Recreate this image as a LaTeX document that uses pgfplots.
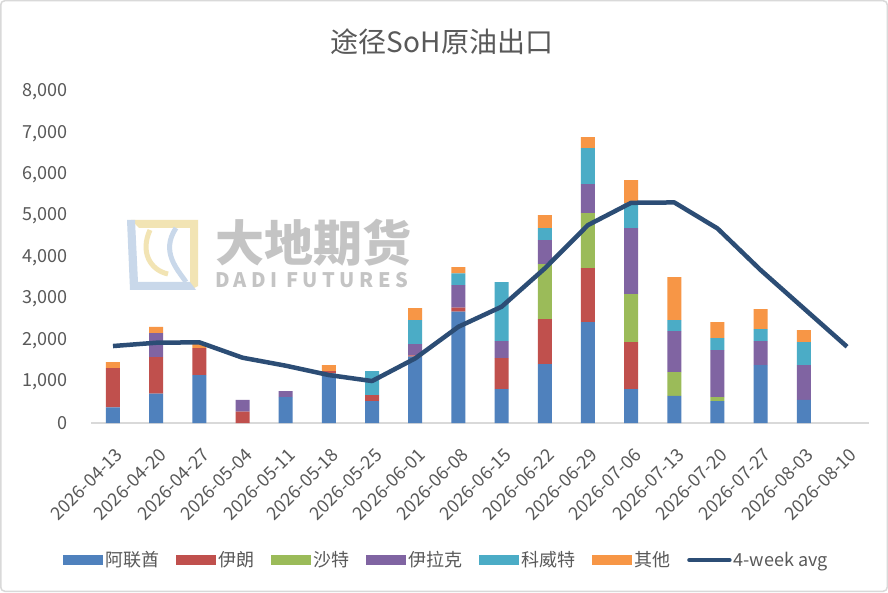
\documentclass[border=0pt]{standalone}
\usepackage{pgfplots}
\pgfplotsset{compat=1.18}
\usepackage{pgfplotstable}
\usepackage{fontspec}
\setmainfont{Noto Sans CJK SC}
\definecolor{cBlue}{HTML}{4F81BD}
\definecolor{cRed}{HTML}{C0504D}
\definecolor{cGreen}{HTML}{9BBB59}
\definecolor{cPurple}{HTML}{8064A2}
\definecolor{cTeal}{HTML}{4BACC6}
\definecolor{cOrange}{HTML}{F79646}
\definecolor{cLine}{HTML}{2C4D75}
\definecolor{cTxt}{HTML}{595959}
\definecolor{cAx}{HTML}{D9D9D9}
\definecolor{wmGray}{HTML}{C4C4C4}
\definecolor{wmBlue}{HTML}{C9D8EA}
\definecolor{wmYellow}{HTML}{F2E4B4}

\pgfplotstableread{
x a b c d e f
0 379 950 0 0 0 144
1 708 886 0 580 0 152
2 1159 653 0 0 0 100
3 0 273 0 283 0 0
4 628 0 0 145 0 0
5 1200 56 0 0 0 145
6 531 145 0 0 580 0
7 1602 34 0 272 580 290
8 2689 97 0 547 282 153
9 821 749 0 411 1425 0
10 1425 1087 1329 579 290 314
11 2440 1304 1328 701 870 265
12 821 1136 1159 1594 597 563
13 653 0 579 990 266 1039
14 531 0 97 1135 290 387
15 1401 0 0 580 290 483
16 556 0 0 845 556 289
17 0 0 0 0 0 0
}\bars

\pgfplotstableread{
x v
0 1860
1 1940
2 1950
3 1578
4 1385
5 1159
6 1014
7 1562
8 2326
9 2810
10 3736
11 4783
12 5322
13 5331
14 4702
15 3696
16 2770
17 1844
}\avg

\begin{document}
\begin{tikzpicture}
\useasboundingbox (0pt,0pt) rectangle (888pt,592pt);
\draw[line width=1.5pt, draw=cAx, fill=white, rounded corners=4pt] (0.75pt,0.75pt) rectangle (887.25pt,591.25pt);
% title
\node[text=cTxt, font=\fontsize{28}{30}\selectfont] at (442pt,550pt) {途径SoH原油出口};
% watermark
\fill[wmYellow] (131pt,372pt) -- (198pt,372pt) -- (198pt,306pt) -- (190pt,302pt) -- (190pt,364pt) -- (139pt,364pt) -- cycle;
\fill[wmBlue] (127pt,372pt) -- (135pt,372pt) -- (138pt,310pt) -- (190pt,310pt) -- (196pt,302pt) -- (130pt,302pt) -- cycle;
\draw[wmBlue, line width=5pt] (176pt,364pt) .. controls (160pt,340pt) and (178pt,322pt) .. (186pt,310pt);
\draw[wmYellow, line width=5pt] (150pt,362pt) .. controls (140pt,340pt) and (150pt,322pt) .. (168pt,318pt);
\node[text=wmGray, font=\fontsize{49}{52}\selectfont\bfseries, anchor=west, inner sep=0pt] at (215pt,349pt) {大地期货};
\node[text=wmGray, font=\fontsize{20}{22}\selectfont\bfseries\addfontfeature{LetterSpace=22}, anchor=west, inner sep=0pt] at (215pt,312pt) {DADI FUTURES};

\begin{axis}[
  at={(91.4pt,169pt)}, anchor=south west,
  scale only axis, width=777.2pt, height=331pt,
  xmin=-0.5, xmax=17.5, ymin=0, ymax=8000,
  ybar stacked, bar width=14pt,
  axis lines*=left,
  x axis line style={draw=cAx, line width=1.5pt},
  y axis line style={draw=none},
  major tick length=0pt,
  xtick={0,...,17},
  xticklabels={2026-04-13,2026-04-20,2026-04-27,2026-05-04,2026-05-11,2026-05-18,2026-05-25,2026-06-01,2026-06-08,2026-06-15,2026-06-22,2026-06-29,2026-07-06,2026-07-13,2026-07-20,2026-07-27,2026-08-03,2026-08-10},
  ytick={0,1000,...,8000},
  yticklabel style={/pgf/number format/1000 sep={,}},
  tick label style={text=cTxt, font=\fontsize{18}{20}\selectfont, /pgf/number format/assume math mode=true},
  xticklabel style={anchor=east, xshift=9pt, yshift=-26pt, rotate=45},
  yticklabel style={anchor=east, xshift=-20pt},
  legend columns=7,
  legend style={draw=none, fill=none, at={(-0.0404,-0.414)}, anchor=west,
    font=\fontsize{18}{20}\selectfont, text=cTxt,
    /tikz/every even column/.append style={column sep=15pt},
    nodes={inner sep=2pt}},
  legend cell align=left,
]
\addplot[fill=cBlue, draw=none, legend image code/.code={\fill[cBlue] (0pt,-5pt) rectangle (40pt,5pt);}] table[x=x,y=a] {\bars};
\addlegendentry{阿联酋}
\addplot[fill=cRed, draw=none, legend image code/.code={\fill[cRed] (0pt,-5pt) rectangle (40pt,5pt);}] table[x=x,y=b] {\bars};
\addlegendentry{伊朗}
\addplot[fill=cGreen, draw=none, legend image code/.code={\fill[cGreen] (0pt,-5pt) rectangle (40pt,5pt);}] table[x=x,y=c] {\bars};
\addlegendentry{沙特}
\addplot[fill=cPurple, draw=none, legend image code/.code={\fill[cPurple] (0pt,-5pt) rectangle (40pt,5pt);}] table[x=x,y=d] {\bars};
\addlegendentry{伊拉克}
\addplot[fill=cTeal, draw=none, legend image code/.code={\fill[cTeal] (0pt,-5pt) rectangle (40pt,5pt);}] table[x=x,y=e] {\bars};
\addlegendentry{科威特}
\addplot[fill=cOrange, draw=none, legend image code/.code={\fill[cOrange] (0pt,-5pt) rectangle (40pt,5pt);}] table[x=x,y=f] {\bars};
\addlegendentry{其他}
\addlegendimage{legend image code/.code={\draw[cLine, line width=4.5pt, line cap=round] (2pt,0pt) -- (42pt,0pt);}}
\addlegendentry{4-week avg}
\end{axis}

\begin{axis}[
  at={(91.4pt,169pt)}, anchor=south west,
  scale only axis, width=777.2pt, height=331pt,
  xmin=-0.5, xmax=17.5, ymin=0, ymax=8000,
  hide axis,
]
\addplot[cLine, line width=4.5pt, line join=round, mark=none] table[x=x,y=v] {\avg};
\end{axis}
\end{tikzpicture}
\end{document}
